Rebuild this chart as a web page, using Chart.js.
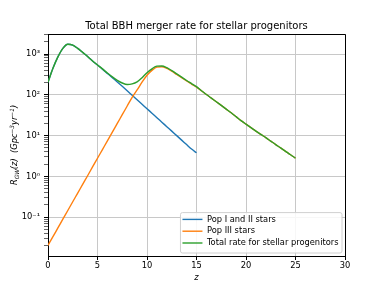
<!DOCTYPE html>
<html>
<head>
<meta charset="utf-8">
<script src="https://cdn.jsdelivr.net/npm/chart.js@4/dist/chart.umd.min.js"></script>
<style>
	html, body { margin: 0; padding: 0; background: #fff; }
	#wrap { width: 384px; height: 288px; }
</style>
</head>
<body>
<div id="wrap"><canvas id="merger-rate-chart" width="384" height="288"></canvas></div>
<script>
// redshift grid the curves were read at
var zValues = [0, 0.5, 1, 1.5, 2, 2.5, 3, 3.5, 4, 4.5, 5, 5.5, 6, 6.5, 7, 7.5, 8, 8.5, 9, 9.5,
	10, 10.5, 11, 11.5, 12, 12.5, 13, 13.5, 14, 14.5, 15, 15.5, 16, 16.5, 17, 17.5, 18, 18.5, 19, 19.5,
	20, 20.5, 21, 21.5, 22, 22.5, 23, 23.5, 24, 24.5, 25];

// Gpc^-3 yr^-1, Pop I/II stop at z = 15
var popIandII = [204, 447, 851, 1380, 1738, 1660, 1380, 1096, 871, 676, 537, 427, 335, 263, 207, 162,
	126, 97.7, 75.9, 58.9, 45.7, 35.5, 27.5, 21.4, 16.6, 12.9, 10.0, 7.76, 6.03, 4.68, 3.80];
var popIII = [0.0204, 0.0334, 0.0546, 0.0893, 0.146, 0.239, 0.390, 0.638, 1.04, 1.71, 2.79, 4.56, 7.45,
	12.2, 19.9, 32.6, 53.2, 87.1, 132, 204, 302, 398, 479, 490, 447, 380, 316, 263, 219, 184, 155,
	126, 102, 83.2, 67.6, 55.0, 44.7, 36.3, 29.2, 23.4, 19.1, 15.7, 12.9, 10.7, 8.91, 7.33, 6.03, 5.01,
	4.12, 3.39, 2.82];
var totalRate = [204, 447, 851, 1380, 1738, 1660, 1380, 1097, 872, 678, 540, 432, 342, 275, 227, 195,
	179, 185, 208, 263, 348, 434, 507, 511, 464, 393, 326, 271, 225, 189, 159,
	126, 102, 83.2, 67.6, 55.0, 44.7, 36.3, 29.2, 23.4, 19.1, 15.7, 12.9, 10.7, 8.91, 7.33, 6.03, 5.01,
	4.12, 3.39, 2.82];

var seriesLabels = ["Pop I and II stars", "Pop III stars", "Total rate for stellar progenitors"];
var xTicks = [0, 5, 10, 15, 20, 25, 30];
var yTickValues = [0.1, 1, 10, 100, 1000];
var yTickLabels = ["10\u207B\u00B9", "10\u2070", "10\u00B9", "10\u00B2", "10\u00B3"];

(function() {
	'use strict';

	var FONT = "'DejaVu Sans', sans-serif";
	var colors = ["#1f77b4", "#ff7f0e", "#2ca02c"];

	function toPoints(ys) {
		return ys.map(function(v, i) {
			return {x: zValues[i], y: v};
		});
	}

	function isMajor(v) {
		return yTickValues.indexOf(v) !== -1;
	}

	// matplotlib style log ticks: 1..9 x 10^n, labels only on decades
	function logTicks(scale) {
		var ticks = [];
		for (var p = -2; p <= 3; p++) {
			for (var m = 1; m <= 9; m++) {
				var v = Number((m * Math.pow(10, p)).toPrecision(3));
				if (v >= scale.min && v <= scale.max) {
					ticks.push({value: v, major: m === 1});
				}
			}
		}
		scale.ticks = ticks;
	}

	function drawMixed(ctx, pieces, size) {
		var w = 0;
		pieces.forEach(function(p) {
			ctx.font = "italic " + (p.s ? size * 0.7 : size) + "px " + FONT;
			p.w = ctx.measureText(p.t).width;
			w += p.w;
		});
		var x = -w / 2;
		pieces.forEach(function(p) {
			ctx.font = "italic " + (p.s ? size * 0.7 : size) + "px " + FONT;
			var dy = p.s === 'sub' ? 2 : (p.s === 'sup' ? -3.5 : 0);
			ctx.fillText(p.t, x, dy);
			x += p.w;
		});
	}

	var decorations = {
		id: 'decorations',
		afterDraw: function(chart) {
			var ctx = chart.ctx;
			var area = chart.chartArea;
			ctx.save();

			// top and right spines
			ctx.strokeStyle = "#000";
			ctx.lineWidth = 1;
			ctx.beginPath();
			ctx.moveTo(area.left, Math.round(area.top) + 0.5);
			ctx.lineTo(area.right + 0.5, Math.round(area.top) + 0.5);
			ctx.lineTo(area.right + 0.5, area.bottom);
			ctx.stroke();

			// legend, lower right inside the axes
			var fs = 8.3;
			ctx.font = fs + "px " + FONT;
			var textW = 0;
			seriesLabels.forEach(function(l) {
				textW = Math.max(textW, ctx.measureText(l).width);
			});
			var rowH = 11.8;
			var bw = 2.5 + 20 + 4.5 + textW + 3;
			var bh = rowH * seriesLabels.length + 5;
			var bx = area.right - 3.5 - bw;
			var by = area.bottom - 3.5 - bh;
			ctx.fillStyle = "rgba(255,255,255,0.85)";
			ctx.strokeStyle = "#d0d0d0";
			ctx.beginPath();
			ctx.roundRect(bx + 0.5, by + 0.5, bw, bh, 2);
			ctx.fill();
			ctx.stroke();
			ctx.textBaseline = "middle";
			ctx.textAlign = "left";
			seriesLabels.forEach(function(l, i) {
				var cy = by + 7.3 + i * rowH;
				ctx.strokeStyle = colors[i];
				ctx.lineWidth = 1.4;
				ctx.beginPath();
				ctx.moveTo(bx + 2.5, cy);
				ctx.lineTo(bx + 22.5, cy);
				ctx.stroke();
				ctx.fillStyle = "#000";
				ctx.fillText(l, bx + 27, cy);
			});

			// title
			var cx = (area.left + area.right) / 2;
			ctx.fillStyle = "#000";
			ctx.textAlign = "center";
			ctx.textBaseline = "alphabetic";
			ctx.font = "10px " + FONT;
			ctx.fillText("Total BBH merger rate for stellar progenitors", cx, 29);

			// x axis title
			ctx.font = "italic 8.3px " + FONT;
			ctx.fillText("z", cx, 280);

			// y axis title with sub/superscripts
			ctx.translate(17, (area.top + area.bottom) / 2);
			ctx.rotate(-Math.PI / 2);
			ctx.textAlign = "left";
			drawMixed(ctx, [
				{t: "R"}, {t: "GW", s: 'sub'}, {t: "(z)  (Gpc"}, {t: "\u22123", s: 'sup'},
				{t: "yr"}, {t: "\u22121", s: 'sup'}, {t: ")"}
			], 8.3);

			ctx.restore();
		}
	};

	var datasets = [popIandII, popIII, totalRate].map(function(ys, i) {
		return {
			label: seriesLabels[i],
			data: toPoints(ys),
			borderColor: colors[i],
			backgroundColor: colors[i],
			borderWidth: 1.4,
			pointRadius: 0,
			cubicInterpolationMode: 'monotone',
			order: 3 - i
		};
	});

	var ctx = document.getElementById("merger-rate-chart");
	var chart = new Chart(ctx, {
		type: 'line',
		data: {datasets: datasets},
		plugins: [decorations],
		options: {
			responsive: false,
			animation: false,
			layout: {padding: {left: 0, top: 34, right: 39, bottom: 0}},
			plugins: {
				legend: {display: false},
				title: {display: false},
				tooltip: {enabled: false}
			},
			scales: {
				x: {
					type: 'linear',
					min: 0,
					max: 30,
					afterBuildTicks: function(scale) {
						scale.ticks = xTicks.map(function(v) { return {value: v}; });
					},
					afterFit: function(scale) { scale.height = 32; },
					ticks: {
						color: "#000",
						padding: 1,
						maxRotation: 0,
						font: {family: FONT, size: 8.3}
					},
					grid: {
						color: "#c8c8c8",
						lineWidth: 1,
						tickLength: 4,
						tickColor: "#000"
					},
					border: {color: "#000", width: 1}
				},
				y: {
					type: 'logarithmic',
					min: 0.0112,
					max: 3100,
					afterBuildTicks: logTicks,
					afterFit: function(scale) { scale.width = 48; },
					ticks: {
						color: "#000",
						padding: 4,
						autoSkip: false,
						font: {family: FONT, size: 8.3},
						callback: function(value) {
							var i = yTickValues.indexOf(value);
							return i === -1 ? "" : yTickLabels[i];
						}
					},
					grid: {
						color: function(c) {
							return c.tick && isMajor(c.tick.value) ? "#c8c8c8" : "rgba(0,0,0,0)";
						},
						lineWidth: 1,
						tickLength: 4,
						tickColor: function(c) {
							return c.tick && isMajor(c.tick.value) ? "#000" : "#666";
						}
					},
					border: {color: "#000", width: 1}
				}
			}
		}
	});
})();
</script>
</body>
</html>
